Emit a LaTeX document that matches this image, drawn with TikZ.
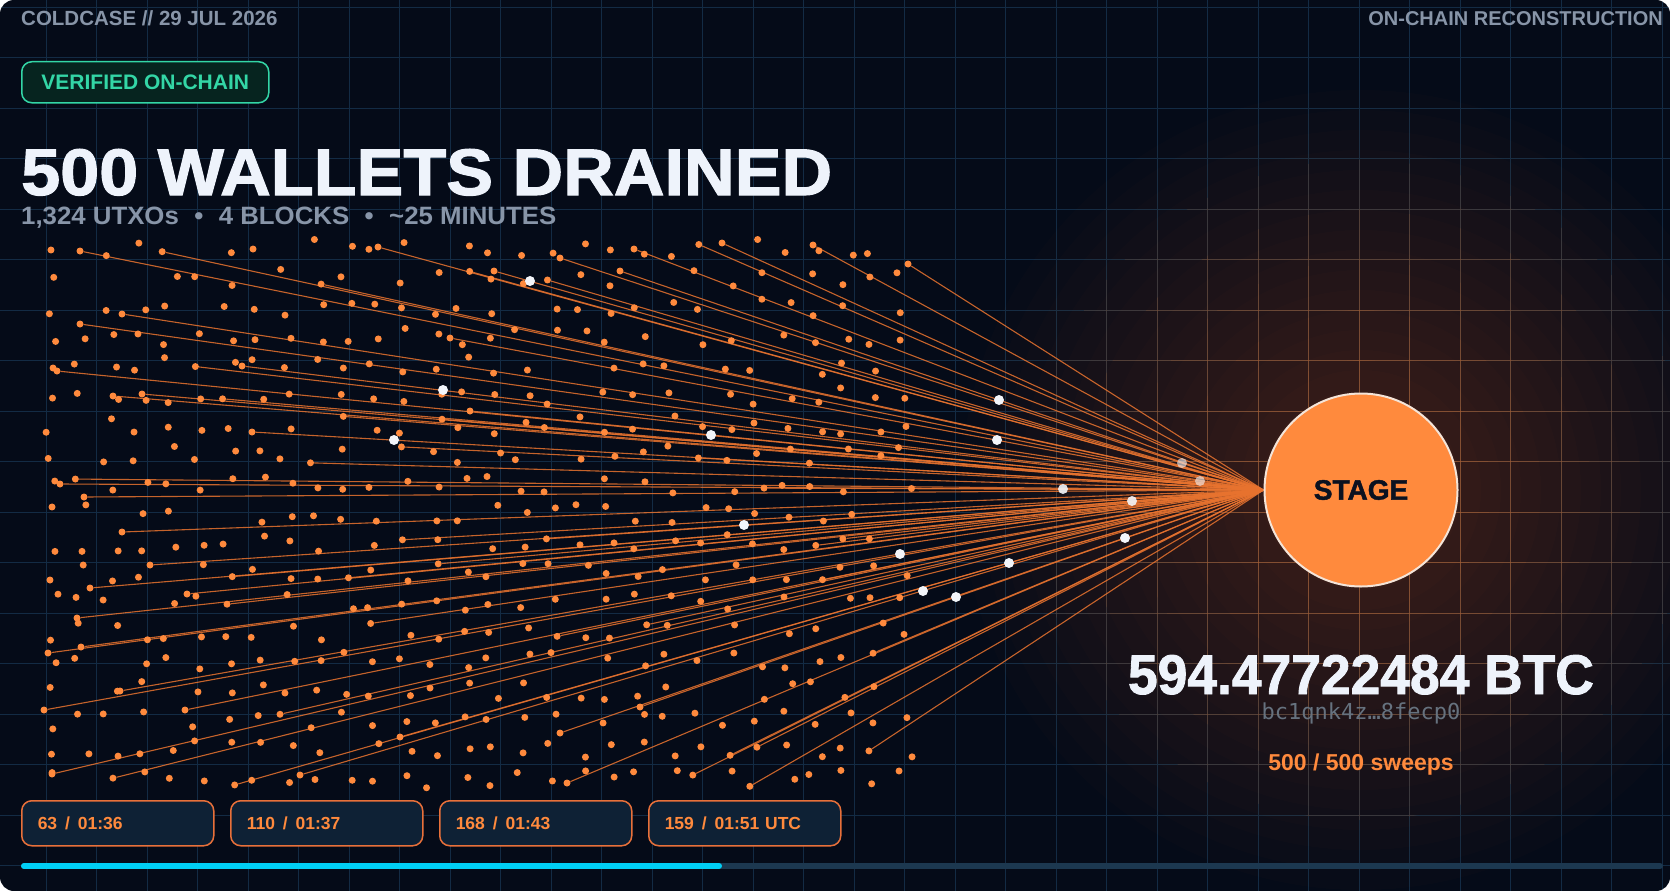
\documentclass[tikz,border=0pt]{standalone}
\usepackage{fontspec}
\usepackage{graphicx}
\setmainfont{Liberation Sans}
\newfontfamily\heavyfont[FakeBold=1.6]{Liberation Sans}
\newfontfamily\addrfont{DejaVu Sans Mono}
\usetikzlibrary{calc}
\definecolor{bgc}{HTML}{050B18}
\definecolor{gridc}{HTML}{132B44}
\definecolor{gridorg}{HTML}{B5602E}
\definecolor{org}{HTML}{FF8A3D}
\definecolor{orgline}{HTML}{E8732F}
\definecolor{graytxt}{HTML}{8895A8}
\definecolor{tealc}{HTML}{33D6A6}
\definecolor{tealbg}{HTML}{06241F}
\definecolor{boxbg}{HTML}{0E2135}
\definecolor{boxedge}{HTML}{E8703A}
\definecolor{cyanc}{HTML}{00CFF5}
\definecolor{trackc}{HTML}{1C3850}
\definecolor{titlec}{HTML}{EEF3FB}
\definecolor{addrc}{HTML}{66727F}
\definecolor{stagetxt}{HTML}{0B1120}
\definecolor{stagering}{HTML}{F4E4D8}
\definecolor{partc}{HTML}{F2F5FA}
\pgfdeclarelayer{back}
\pgfdeclarelayer{wires}
\pgfsetlayers{back,wires,main}
\tikzset{
  dot/.style={circle, fill=org, inner sep=0pt, minimum size=7pt},
  part/.style={circle, fill=partc, inner sep=0pt, minimum size=10pt},
  wire/.style={draw=orgline, line width=1.1pt, opacity=0.85},
  gridline/.style={draw=gridc, line width=1.3pt},
  gridglow/.style={draw=gridorg, line width=1.3pt, opacity=0.17},
  txt/.style={inner sep=0pt},
  tbox/.style={draw=boxedge, fill=boxbg, line width=1.5pt, rounded corners=10pt,
    minimum width=192pt, minimum height=45pt, anchor=north west, text width=160pt,
    inner xsep=16pt, inner ysep=0pt, align=left, text=org,
    font=\bfseries\fontsize{17.5}{17.5}\selectfont},
  bar/.style={line width=6pt, line cap=round}
}
\begin{document}
\begin{tikzpicture}[x=1pt,y=-1pt]
\useasboundingbox (0,0) rectangle (1670,891);
\begin{pgfonlayer}{back}
\fill[white] (0,0) rectangle (1670,891);
\begin{scope}
\clip[rounded corners=14pt] (0,0) rectangle (1670,891);
\fill[bgc] (0,0) rectangle (1670,891);
\foreach \k in {0,...,32} \draw[gridline] ({46.2+50.5*\k},0) -- ({46.2+50.5*\k},891);
\foreach \k in {0,...,17} \draw[gridline] (0,{7.3+50.5*\k}) -- (1670,{7.3+50.5*\k});
\foreach \r in {100,120,...,400} \fill[org, opacity=0.015] (1361,490) circle[radius=\r pt];
\foreach \r in {130,180,230,280,330} {
  \begin{scope}
  \clip (1361,490) circle[radius=\r pt];
  \foreach \k in {18,...,32} \draw[gridglow] ({46.2+50.5*\k},100) -- ({46.2+50.5*\k},891);
  \foreach \k in {2,...,17} \draw[gridglow] (900,{7.3+50.5*\k}) -- (1670,{7.3+50.5*\k});
  \end{scope}
}
\end{scope}
\end{pgfonlayer}

% stage
\node[circle, fill=org, draw=stagering, line width=2pt, minimum size=193pt, inner sep=0pt,
      text=stagetxt, font=\heavyfont\bfseries\fontsize{28}{28}\selectfont] (stage) at (1361,490) {STAGE};

% wallet field
\pgfmathsetseed{7}
\foreach \i in {0,...,29}{
  \foreach \j in {0,...,18}{
    \pgfmathsetmacro\xx{52+29.4*\i+8*rand}
    \pgfmathsetmacro\yy{248+29.5*\j+9*rand}
    \pgfmathsetmacro\dkeep{rnd}
    \pgfmathsetmacro\wsel{rnd}
    \ifdim\dkeep pt>0.13pt
      \node[dot] (d\i-\j) at (\xx,\yy) {};
      \ifdim\wsel pt<0.07pt
        \begin{pgfonlayer}{wires}\draw[wire] (d\i-\j) -- (stage.west);\end{pgfonlayer}
      \fi
    \fi
  }
}

% explicit sweeps
\foreach \n/\px/\py in {1/80/251, 2/378/247, 3/122/314, 4/57/371, 5/113/396, 6/142/394,
  7/84/497, 8/122/532, 9/187/594, 10/77/618, 11/48/653, 12/81/647, 13/44/710, 14/185/710,
  15/52/774, 16/634/249, 17/722/243, 18/813/245, 19/567/783, 20/908/264}{
  \node[dot] (e\n) at (\px,\py) {};
  \begin{pgfonlayer}{wires}\draw[wire] (e\n) -- (stage.west);\end{pgfonlayer}
}

% sweeps with particles
\foreach \n/\wx/\wy/\sx/\sy/\op in {1/530/281/494/271/1, 2/443/390/242/366/1, 3/394/440/252/432/1,
  4/711/435/470/411/1, 5/999/400/620/271/1, 6/997/440/450/338/1, 7/1182/463/560/258/0.6,
  8/1200/481/80/324/0.6, 9/1063/489/60/484/0.9, 10/1132/501/90/588/0.9, 11/1125/538/560/733/1,
  12/900/554/120/691/1, 13/1009/563/400/737/1, 14/923/591/300/775/1, 15/956/597/640/707/1,
  16/744/525/150/565/1}{
  \node[dot] (s\n) at (\sx,\sy) {};
  \begin{pgfonlayer}{wires}\draw[wire] (s\n) -- (stage.west);\end{pgfonlayer}
  \node[part, opacity=\op] (p\n) at (\wx,\wy) {};
}

% header texts
\node[txt, anchor=base west, text=graytxt, font=\bfseries\fontsize{20.5}{20.5}\selectfont] (hdrl) at (21,26) {COLDCASE // 29 JUL 2026};
\node[txt, anchor=base east, text=graytxt, font=\bfseries\fontsize{20}{20}\selectfont] (hdrr) at (1663,26) {ON-CHAIN RECONSTRUCTION};
\node[draw=tealc, fill=tealbg, line width=1.5pt, rounded corners=10pt, minimum width=247pt,
      minimum height=41pt, inner sep=0pt, text=tealc, anchor=north west,
      font=\bfseries\fontsize{21}{21}\selectfont] (badge) at (21,61) {VERIFIED ON-CHAIN};
\node[txt, anchor=base west, text=titlec, font=\heavyfont\bfseries\fontsize{64}{64}\selectfont] (title) at (21,195)
  {\resizebox{811pt}{46pt}{500 WALLETS DRAINED}};
\node[txt, anchor=base west, text=graytxt, font=\bfseries\fontsize{24}{24}\selectfont] (sub) at (21,224)
  {\resizebox{535pt}{17.5pt}{1,324 UTXOs\hspace{0.6em}•\hspace{0.6em}4 BLOCKS\hspace{0.6em}•\hspace{0.6em}\textasciitilde25 MINUTES}};

% stage texts
\node[txt, anchor=base, text=titlec, font=\heavyfont\bfseries\fontsize{53}{53}\selectfont] (amt) at (1361,694)
  {\resizebox{466pt}{39pt}{594.47722484 BTC}};
\node[txt, anchor=base, text=addrc, font=\addrfont\fontsize{22}{22}\selectfont] (addr) at (1361,719) {bc1qnk4z…8fecp0};
\node[txt, anchor=base, text=org, font=\bfseries\fontsize{23}{23}\selectfont] (sweeps) at (1361,770) {500 / 500 sweeps};

% block boxes
\node[tbox] (b1) at (21,800) {63\hspace{0.45em}/\hspace{0.45em}01:36};
\node[tbox] (b2) at (230,800) {110\hspace{0.45em}/\hspace{0.45em}01:37};
\node[tbox] (b3) at (439,800) {168\hspace{0.45em}/\hspace{0.45em}01:43};
\node[tbox] (b4) at (648,800) {159\hspace{0.45em}/\hspace{0.45em}01:51 UTC};

% progress bar
\coordinate (barL) at (24,866);
\coordinate (barR) at (1660,866);
\coordinate (barP) at (719,866);
\draw[bar, trackc] (barL) -- (barR);
\draw[bar, cyanc] (barL) -- (barP);
\end{tikzpicture}
\end{document}
